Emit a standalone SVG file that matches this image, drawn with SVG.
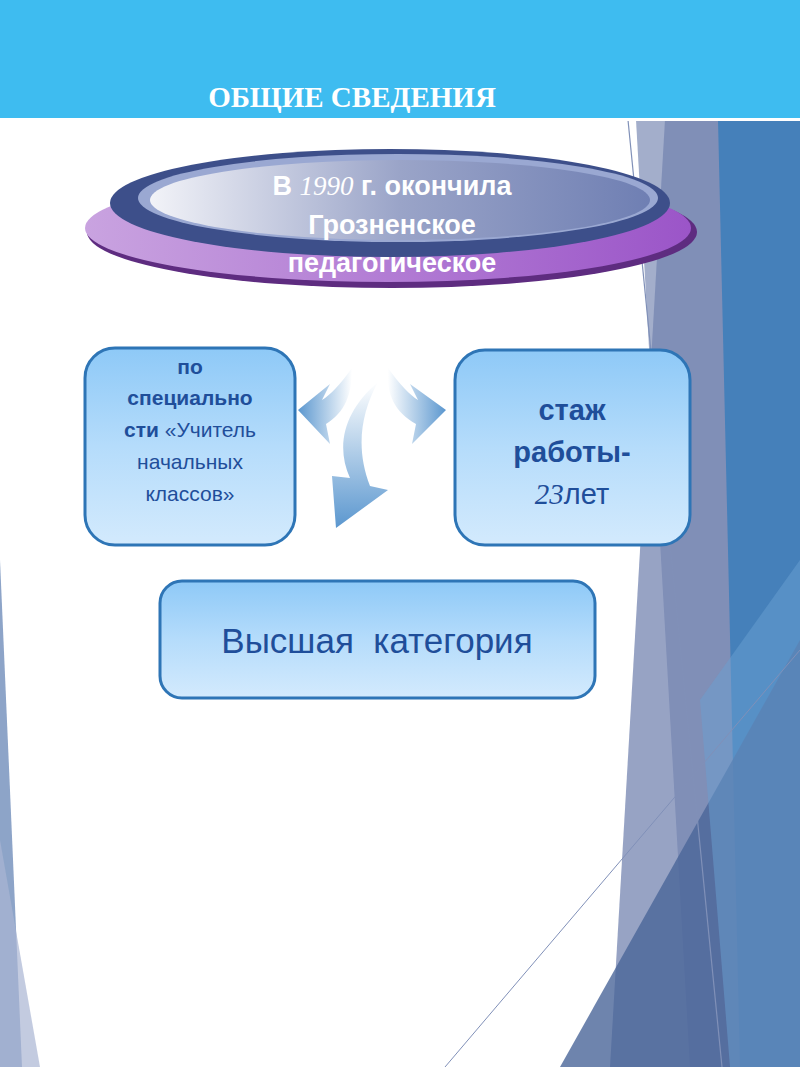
<svg xmlns="http://www.w3.org/2000/svg" width="800" height="1067" viewBox="0 0 800 1067">
<defs>
<linearGradient id="box" x1="0" y1="0" x2="0" y2="1"><stop offset="0" stop-color="#8ec9f7"/><stop offset="0.5" stop-color="#b5dcfb"/><stop offset="1" stop-color="#d3eafd"/></linearGradient>
<linearGradient id="purp" x1="0" y1="0" x2="1" y2="0"><stop offset="0" stop-color="#c9a3e0"/><stop offset="1" stop-color="#9b55c8"/></linearGradient>
<linearGradient id="inner" x1="0" y1="0" x2="1" y2="0"><stop offset="0" stop-color="#f2f3f8"/><stop offset="0.5" stop-color="#9aa4c8"/><stop offset="1" stop-color="#6f7fb3"/></linearGradient>
<linearGradient id="arr" x1="0" y1="0" x2="0" y2="1"><stop offset="0" stop-color="#ffffff"/><stop offset="1" stop-color="#5b97cf"/></linearGradient>
<linearGradient id="arrh" x1="0" y1="0" x2="1" y2="0"><stop offset="0" stop-color="#ffffff"/><stop offset="1" stop-color="#5b97cf"/></linearGradient>
<linearGradient id="arrl" x1="1" y1="0" x2="0" y2="0"><stop offset="0" stop-color="#ffffff"/><stop offset="1" stop-color="#5b97cf"/></linearGradient>
<clipPath id="ec"><rect x="0" y="140" width="800" height="160"/></clipPath>
<style>
.box{fill:url(#box);stroke:#2e75b6;stroke-width:3}
.t{font-family:"Liberation Sans",Arial,sans-serif;fill:#1f4e9a;text-anchor:middle}
.w{font-family:"Liberation Sans",Arial,sans-serif;fill:#ffffff;font-weight:bold;font-size:27px;text-anchor:middle}
.ser{font-family:"Liberation Serif",serif;font-style:italic;font-weight:normal}
</style>
</defs>
<rect width="800" height="1067" fill="#ffffff"/>
<g id="background">
<polygon points="636,120 800,120 800,1067 690,1067" fill="#a3aecb"/>
<polygon points="665,120 800,120 800,1067 610,1067" fill="#7484b0" opacity="0.75"/>
<polygon points="718,120 800,120 800,1067 740,1067" fill="#4580ba"/>
<polygon points="800,640 800,1067 560,1067" fill="#4a6598" opacity="0.8"/>
<polygon points="700,700 800,560 800,1067 730,1067" fill="#6aa0d2" opacity="0.5"/>
<line x1="628" y1="120" x2="722" y2="1067" stroke="#8090b8" stroke-width="1.2"/>
<line x1="445" y1="1067" x2="800" y2="650" stroke="#8090b8" stroke-width="1"/>
<polygon points="0,560 22,1067 0,1067" fill="#8da4c8"/>
<polygon points="0,840 40,1067 0,1067" fill="#a9b5d3" opacity="0.7"/>
<rect x="0" y="0" width="800" height="118" fill="#3ebcf0"/>
<rect x="0" y="118" width="800" height="3" fill="#ffffff"/>
<text x="352" y="107" font-family="Liberation Serif,serif" font-weight="bold" font-size="29" fill="#ffffff" text-anchor="middle">ОБЩИЕ СВЕДЕНИЯ</text>
</g>
<g id="top-node">
<ellipse cx="392" cy="232" rx="305" ry="56" fill="#5e2c80"/>
<ellipse cx="388" cy="228" rx="303" ry="54" fill="url(#purp)"/>
<ellipse cx="390" cy="203" rx="280" ry="54" fill="#3d4f8a"/>
<ellipse cx="398" cy="198" rx="260" ry="44" fill="#9aa8d2"/>
<ellipse cx="400" cy="200" rx="250" ry="40" fill="url(#inner)"/>
<g clip-path="url(#ec)">
<text class="w" x="392" y="195">В <tspan class="ser">1990</tspan> г. окончила</text>
<text class="w" x="392" y="234">Грозненское</text>
<text class="w" x="392" y="272">педагогическое</text>
<text class="w" x="392" y="308">училище</text>
</g>
</g>
<g id="connectors">
<path d="M352,368 C340,385 330,395 322,400 L330,384 L298,410 L330,444 L326,424 C345,412 352,395 352,368 Z" fill="url(#arrl)"/>
<path d="M388,368 C400,385 410,395 418,400 L410,384 L446,410 L412,444 L416,424 C395,412 386,395 388,368 Z" fill="url(#arrh)"/>
<path d="M378,382 C345,410 335,445 350,478 L332,476 L336,528 L388,490 L370,486 C356,450 360,415 378,382 Z" fill="url(#arr)"/>
</g>
<g id="left-node">
<rect class="box" x="85" y="348" width="210" height="197" rx="30"/>
<text class="t" font-size="21" font-weight="bold" x="190" y="374">по</text>
<text class="t" font-size="21" font-weight="bold" x="190" y="405">специально</text>
<text class="t" font-size="21" x="190" y="437"><tspan font-weight="bold">сти</tspan> «Учитель</text>
<text class="t" font-size="21" x="190" y="469">начальных</text>
<text class="t" font-size="21" x="190" y="501">классов»</text>
</g>
<g id="right-node">
<rect class="box" x="455" y="350" width="235" height="195" rx="30"/>
<text class="t" font-size="29" font-weight="bold" x="572" y="420">стаж</text>
<text class="t" font-size="29" font-weight="bold" x="572" y="462">работы-</text>
<text class="t" font-size="29" x="572" y="504"><tspan class="ser">23</tspan>лет</text>
</g>
<g id="bottom-node">
<rect class="box" x="160" y="581" width="435" height="117" rx="22"/>
<text class="t" font-size="35" x="377" y="653" xml:space="preserve">Высшая  категория</text>
</g>
</svg>
